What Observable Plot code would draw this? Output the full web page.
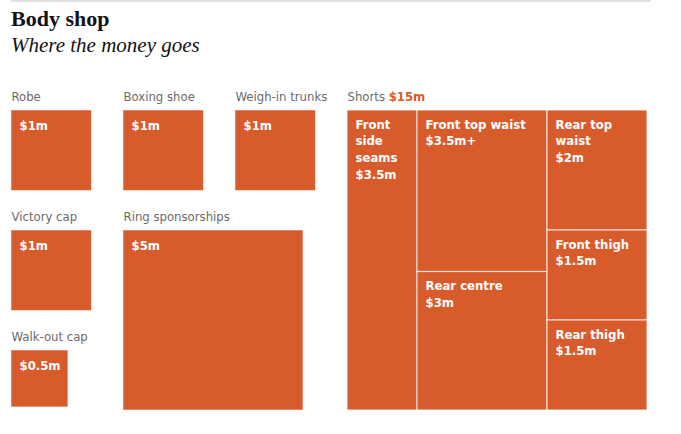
<!DOCTYPE html>
<html>
<head>
<meta charset="utf-8">
<script src="https://cdn.jsdelivr.net/npm/d3@7"></script>
<script src="https://cdn.jsdelivr.net/npm/@observablehq/plot@0.6"></script>
<style>
  body { margin: 0; background: #fff; }
  #wrap { position: relative; width: 681px; height: 434px; overflow: hidden; }
  #rule { position: absolute; left: 11px; top: 0; width: 640px; height: 2px; background: #e2e2e2; }
  #title { position: absolute; left: 11px; top: 5.6px; margin: 0; font: bold 22px/26px "Liberation Serif", serif; color: #121212; white-space: nowrap; }
  #subtitle { position: absolute; left: 11px; top: 32px; margin: 0; font: italic 21px/26px "Liberation Serif", serif; color: #121212; white-space: nowrap; }
  #chart { position: absolute; left: 0; top: 70px; }
  #chart text.tight { letter-spacing: -0.45px; }
</style>
</head>
<body>
<div id="wrap">
  <div id="rule"></div>
  <h1 id="title">Body shop</h1>
  <h2 id="subtitle">Where the money goes</h2>
  <div id="chart"></div>
</div>
<script>
// Spending on kit and sponsorship, $m
const items = ["Robe", "Boxing shoe", "Weigh-in trunks", "Victory cap", "Ring sponsorships", "Walk-out cap"];
const itemValues = [1, 1, 1, 1, 5, 0.5];

// The shorts, broken down by advertising panel, $m
const shortsTitle = "Shorts";
const shortsParts = ["Front side seams", "Front top waist", "Rear centre", "Rear top waist", "Front thigh", "Rear thigh"];
const shortsValues = [3.5, 3.5, 3, 2, 1.5, 1.5];
const shortsNotes = ["", "+", "", "", "", ""];
const shortsGroups = [0, 1, 1, 2, 2, 2];

// ---- layout ----
const W = 681, H = 364;
const orange = "#d85b2b";
const grey = "#6a6a6a";
const sans = "'DejaVu Sans Condensed', 'Liberation Sans Narrow', 'Arial Narrow', sans-serif";
const fs = 13;
const cellLineHeight = 1.28;
const money = v => `$${v}m`;

const unit = 80.5;                    // side of a $1m square, px
const side = v => unit * Math.sqrt(v);
const gridLeft = 11, colStep = 112, gridTop = 40, rowGap = 39.5, labelGap = 10, pad = 8;

// columns of squares, top to bottom
const columns = [["Robe", "Victory cap", "Walk-out cap"], ["Boxing shoe", "Ring sponsorships"], ["Weigh-in trunks"]];
const boxes = [];
columns.forEach((col, ci) => {
  let y = gridTop;
  for (const name of col) {
    const v = itemValues[items.indexOf(name)];
    const s = side(v);
    boxes.push({name, value: v, x1: gridLeft + ci * colStep, x2: gridLeft + ci * colStep + s, y1: y, y2: y + s});
    y += s + rowGap;
  }
});

// the shorts square spans the height of the tallest column
const sx = gridLeft + columns.length * colStep;
const sSide = d3.max(boxes, d => d.y2) - gridTop;
const root = d3.hierarchy({
  children: d3.range(d3.max(shortsGroups) + 1).map(g => ({
    children: shortsParts.map((name, i) => ({name, value: shortsValues[i], note: shortsNotes[i], g: shortsGroups[i]}))
      .filter(d => d.g === g)
  }))
}).sum(d => d.value || 0);
d3.treemap().tile(d3.treemapSliceDice).size([sSide, sSide]).round(false)(root);
const cells = root.leaves().map(n => ({
  name: n.data.name, value: n.data.value, note: n.data.note,
  x1: sx + n.x0, x2: sx + n.x1, y1: gridTop + n.y0, y2: gridTop + n.y1
}));
const shortsTotal = d3.sum(shortsValues);

// width of "Shorts " for placing the total beside it
const ctx = document.createElement("canvas").getContext("2d");
ctx.font = `${fs}px ${sans}`;
const shortsW = ctx.measureText(shortsTitle + " ").width;

// first baseline sits 18px below the top of each cell
const cellText = d => Plot.text([d], {
  x: d => d.x1 + pad, y: d => d.y1 + 18.3 - 0.71 * cellLineHeight * fs,
  text: d => `${d.name}\n${money(d.value)}${d.note}`,
  textAnchor: "start", lineAnchor: "top", lineHeight: cellLineHeight,
  lineWidth: (d.x2 - d.x1 - 2 * pad - 4) / fs,
  fill: "white", fontWeight: "bold", fontSize: fs, fontFamily: sans, className: "tight"
});

const chart = Plot.plot({
  width: W, height: H, margin: 0,
  x: {type: "identity", axis: null},
  y: {type: "identity", axis: null},
  marks: [
    Plot.rect(boxes, {x1: "x1", x2: "x2", y1: "y1", y2: "y2", fill: orange, stroke: "white", strokeOpacity: 0.55, strokeWidth: 1}),
    Plot.text(boxes, {x: "x1", y: d => d.y1 - labelGap, text: "name", textAnchor: "start", lineAnchor: "bottom",
      fill: grey, fontSize: fs, fontFamily: sans}),
    Plot.text(boxes, {x: d => d.x1 + pad, y: d => d.y1 + 10.1, text: d => money(d.value), textAnchor: "start", lineAnchor: "top",
      fill: "white", fontWeight: "bold", fontSize: fs, fontFamily: sans, className: "tight"}),
    Plot.rect(cells, {x1: "x1", x2: "x2", y1: "y1", y2: "y2", fill: orange, stroke: "white", strokeOpacity: 0.7, strokeWidth: 1.2}),
    ...cells.map(cellText),
    Plot.text([shortsTitle], {x: sx, y: gridTop - labelGap, text: d => d, textAnchor: "start", lineAnchor: "bottom",
      fill: grey, fontSize: fs, fontFamily: sans}),
    Plot.text([shortsTotal], {x: sx + shortsW, y: gridTop - labelGap, text: d => money(d), textAnchor: "start", lineAnchor: "bottom",
      fill: orange, fontWeight: "bold", fontSize: fs, fontFamily: sans, className: "tight"})
  ]
});
document.getElementById("chart").append(chart);
</script>
</body>
</html>
